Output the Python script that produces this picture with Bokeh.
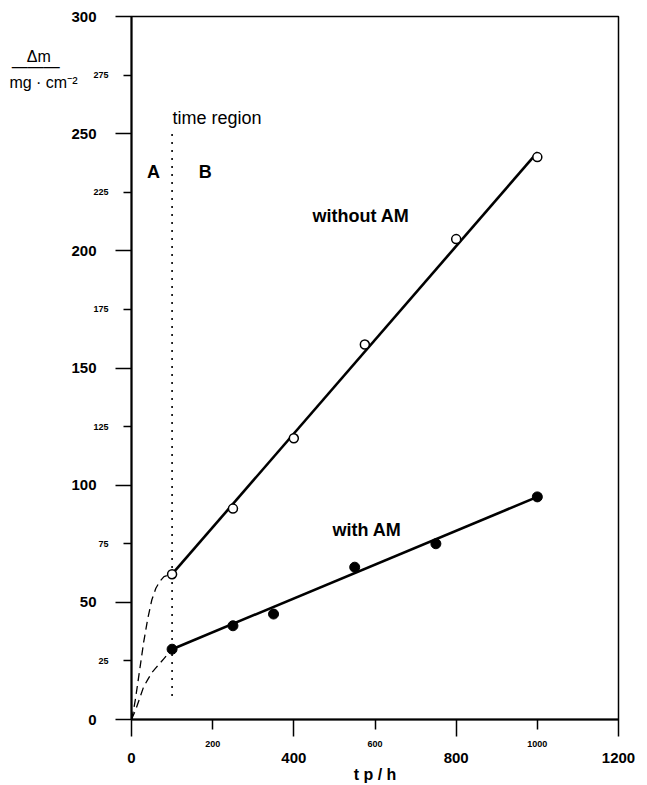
from bokeh.plotting import figure
from bokeh.models import Range1d, FixedTicker, Label, LinearAxis
from bokeh.embed import file_html
from bokeh.resources import INLINE

# ---- data ----
t_without = [100, 250, 400, 575, 800, 1000]
m_without = [62, 90, 120, 160, 205, 240]
t_with = [100, 250, 350, 550, 750, 1000]
m_with = [30, 40, 45, 65, 75, 95]

fit_t = [100, 1000]
fit_without = [62, 242]
fit_with = [30, 95]

curve_t = [0, 5, 10, 20, 30, 40, 50, 60, 70, 80, 90, 100]
curve_without = [0, 4, 9, 21, 33, 43, 51, 56, 59, 61, 61.6, 62]
curve_with = [0, 2, 4, 9, 14, 17, 20, 22, 24, 26, 28, 30]

region_t = 100
region_m = [10, 250]

x_major = [0, 400, 800, 1200]
x_minor = [200, 600, 1000]
y_major = [0, 50, 100, 150, 200, 250, 300]
y_minor = [25, 75, 125, 175, 225, 275]

# y-axis title, written as a fraction at the top left
NB = "\u00a0"
ylabel_rows = [283.0, 278.6, 272.0]
ylabel_texts = ["Δm" + NB * 6, "———" + NB * 4, "mg · cm⁻²"]

FONT = "Liberation Sans"

p = figure(width=647, height=785, output_backend="svg", toolbar_location=None,
           x_range=Range1d(0, 1200), y_range=Range1d(0, 300),
           min_border_left=131, min_border_right=29, min_border_top=16,
           min_border_bottom=64)
p.grid.visible = False
p.background_fill_color = "white"
p.border_fill_color = "white"
p.outline_line_color = "black"
p.outline_line_width = 1.5

# ---- x axes: inner (small labels), outer (large labels) ----
xa = p.xaxis[0]
xa.ticker = FixedTicker(ticks=x_minor, minor_ticks=x_major)
xa.axis_line_width = 2
xa.major_tick_out = 10
xa.major_tick_in = 0
xa.minor_tick_out = 17
xa.minor_tick_in = 0
xa.major_tick_line_width = 1.5
xa.minor_tick_line_width = 1.5
xa.major_label_standoff = 4
xa.major_label_text_font = FONT
xa.major_label_text_font_style = "bold"
xa.major_label_text_font_size = "9px"
xa.major_label_text_color = "black"

xb = LinearAxis(ticker=FixedTicker(ticks=x_major, minor_ticks=[]))
xb.axis_line_color = None
xb.major_tick_line_color = None
xb.minor_tick_line_color = None
xb.major_tick_out = 0
xb.major_tick_in = 0
xb.major_label_standoff = 3
xb.major_label_text_font = FONT
xb.major_label_text_font_style = "bold"
xb.major_label_text_font_size = "15px"
xb.major_label_text_color = "black"
xb.axis_label = "t p / h"
xb.axis_label_text_font = FONT
xb.axis_label_text_font_style = "bold"
xb.axis_label_text_font_size = "16px"
xb.axis_label_text_color = "black"
xb.axis_label_standoff = 0
p.add_layout(xb, "below")

# ---- y axes: inner (small labels), outer (large labels) ----
ya = p.yaxis[0]
ya.ticker = FixedTicker(ticks=y_minor, minor_ticks=y_major)
ya.axis_line_width = 2
ya.major_tick_out = 8
ya.major_tick_in = 0
ya.minor_tick_out = 16
ya.minor_tick_in = 0
ya.major_tick_line_width = 1.5
ya.minor_tick_line_width = 1.5
ya.major_label_standoff = 7
ya.major_label_text_font = FONT
ya.major_label_text_font_style = "bold"
ya.major_label_text_font_size = "9px"
ya.major_label_text_color = "black"
ya.major_label_orientation = "horizontal"

yb = LinearAxis(ticker=FixedTicker(ticks=y_major, minor_ticks=[]))
yb.axis_line_color = None
yb.major_tick_line_color = None
yb.minor_tick_line_color = None
yb.major_tick_out = 0
yb.major_tick_in = 0
yb.major_label_standoff = -6
yb.major_label_text_font = FONT
yb.major_label_text_font_style = "bold"
yb.major_label_text_font_size = "15px"
yb.major_label_text_color = "black"
yb.major_label_orientation = "horizontal"
p.add_layout(yb, "left")

# ---- y title axis (fraction Δm / mg·cm^-2) ----
yc = LinearAxis(ticker=FixedTicker(ticks=ylabel_rows, minor_ticks=[]))
yc.major_label_overrides = {v: s for v, s in zip(ylabel_rows, ylabel_texts)}
yc.axis_line_color = None
yc.major_tick_line_color = None
yc.minor_tick_line_color = None
yc.major_tick_out = 0
yc.major_tick_in = 0
yc.major_label_standoff = -9
yc.major_label_text_font = FONT
yc.major_label_text_font_size = "16px"
yc.major_label_text_color = "black"
yc.major_label_orientation = "horizontal"
p.add_layout(yc, "left")

# region divider
p.line([region_t, region_t], region_m, line_color="black", line_width=1.6, line_dash="2 6")

# transient dashed curves
p.line(curve_t, curve_without, line_color="black", line_width=1.3, line_dash="8 5")
p.line(curve_t, curve_with, line_color="black", line_width=1.3, line_dash="8 5")

# fits
p.line(fit_t, fit_without, line_color="black", line_width=2.6)
p.line(fit_t, fit_with, line_color="black", line_width=2.6)

# data
p.scatter(t_without, m_without, size=9, fill_color="white", line_color="black", line_width=1.5)
p.scatter(t_with, m_with, size=10, fill_color="black", line_color="black")

# text annotations
def txt(x, y, s, align="left", size="18px", style="bold"):
    p.add_layout(Label(x=x, y=y, text=s, text_align=align, text_baseline="alphabetic",
                       text_font=FONT, text_font_style=style, text_font_size=size,
                       text_color="black"))

txt(101, 256.6, "time region", size="18px", style="normal")
txt(54, 233.6, "A", align="center")
txt(182, 233.6, "B", align="center")
txt(446, 215, "without AM")
txt(495, 81, "with AM")

open("out.html", "w").write(file_html(p, INLINE))
